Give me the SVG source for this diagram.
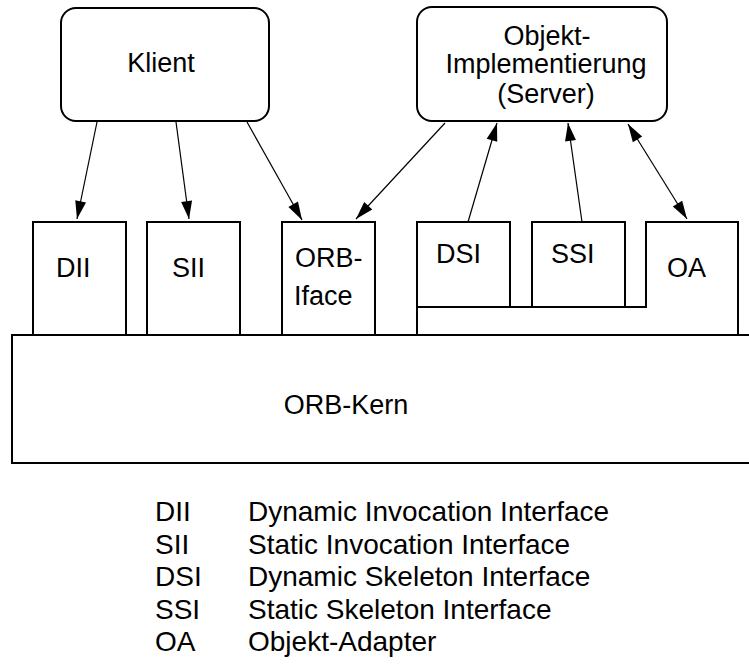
<svg xmlns="http://www.w3.org/2000/svg" width="749" height="668" viewBox="0 0 749 668">
  <style>
    .box { fill: #ffffff; stroke: #000000; stroke-width: 2; }
    .lbl { font-family: "Liberation Sans", Arial, Helvetica, sans-serif; font-size: 27px; fill: #000000; }
    .leg { font-family: "Liberation Sans", Arial, Helvetica, sans-serif; font-size: 28px; fill: #000000; }
    .mid { text-anchor: middle; }
    .conn { stroke: #000000; stroke-width: 1.2; fill: none; }
  </style>
  <defs>
    <marker id="head" markerUnits="userSpaceOnUse" markerWidth="18" markerHeight="11" refX="18" refY="5.5" orient="auto-start-reverse" overflow="visible">
      <path d="M0,0 L18,5.5 L0,11 Z" fill="#000000"/>
    </marker>
  </defs>
  <rect width="749" height="668" fill="#ffffff"/>

  <!-- ORB core, open to the right -->
  <g id="orb-kern">
    <rect class="box" x="12" y="335" width="760" height="128"/>
    <text class="lbl mid" x="346" y="414">ORB-Kern</text>
  </g>

  <!-- client side interfaces -->
  <g id="dii">
    <rect class="box" x="33" y="222" width="93" height="113"/>
    <text class="lbl" x="56" y="277">DII</text>
  </g>
  <g id="sii">
    <rect class="box" x="147" y="222" width="93" height="113"/>
    <text class="lbl" x="172" y="277">SII</text>
  </g>
  <g id="orb-iface">
    <rect class="box" x="282" y="222" width="93" height="113"/>
    <text class="lbl" x="295" y="267">ORB-</text>
    <text class="lbl" x="294" y="305">Iface</text>
  </g>

  <!-- object adapter with skeletons on top -->
  <g id="oa">
    <path class="box" d="M417,335 V307 H646 V222 H738 V335 Z"/>
    <text class="lbl" x="667" y="277">OA</text>
  </g>
  <g id="dsi">
    <rect class="box" x="417" y="222" width="93" height="85"/>
    <text class="lbl" x="436" y="263">DSI</text>
  </g>
  <g id="ssi">
    <rect class="box" x="532" y="222" width="93" height="85"/>
    <text class="lbl" x="551" y="263">SSI</text>
  </g>

  <!-- top level participants -->
  <g id="klient">
    <rect class="box" x="61" y="8" width="208" height="113" rx="15" ry="15"/>
    <text class="lbl mid" x="161" y="72">Klient</text>
  </g>
  <g id="objekt">
    <rect class="box" x="417" y="7" width="250" height="114" rx="15" ry="15"/>
    <text class="lbl mid" x="547" y="45">Objekt-</text>
    <text class="lbl mid" x="546" y="73">Implementierung</text>
    <text class="lbl mid" x="546" y="103">(Server)</text>
  </g>

  <g id="connectors">
    <line class="conn" x1="97" y1="122" x2="77" y2="219" marker-end="url(#head)"/>
    <line class="conn" x1="176" y1="122" x2="189" y2="219" marker-end="url(#head)"/>
    <line class="conn" x1="247" y1="122" x2="302" y2="220" marker-end="url(#head)"/>
    <line class="conn" x1="445" y1="123" x2="356" y2="219" marker-end="url(#head)"/>
    <line class="conn" x1="468" y1="222" x2="497" y2="123" marker-end="url(#head)"/>
    <line class="conn" x1="582" y1="222" x2="568" y2="123" marker-end="url(#head)"/>
    <line class="conn" x1="628" y1="124" x2="687" y2="219" marker-start="url(#head)" marker-end="url(#head)"/>
  </g>

  <!-- abbreviations -->
  <g id="legend">
    <text class="leg" x="155" y="521">DII</text>
    <text class="leg" x="248" y="521">Dynamic Invocation Interface</text>
    <text class="leg" x="155" y="553.5">SII</text>
    <text class="leg" x="248" y="553.5">Static Invocation Interface</text>
    <text class="leg" x="155" y="586">DSI</text>
    <text class="leg" x="248" y="586">Dynamic Skeleton Interface</text>
    <text class="leg" x="155" y="618.5">SSI</text>
    <text class="leg" x="248" y="618.5">Static Skeleton Interface</text>
    <text class="leg" x="155" y="651">OA</text>
    <text class="leg" x="248" y="651">Objekt-Adapter</text>
  </g>
</svg>
